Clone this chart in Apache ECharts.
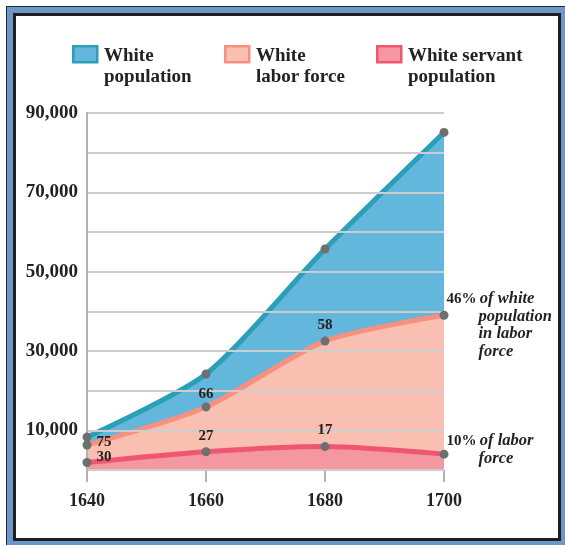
<!DOCTYPE html>
<html>
<head>
<meta charset="utf-8">
<script src="https://cdn.jsdelivr.net/npm/echarts@6/dist/echarts.min.js"></script>
<style>
  html, body { margin: 0; padding: 0; background: #ffffff; }
  #outer { position: absolute; left: 6px; top: 6px; width: 559px; height: 539px; background: #6b97cb; box-sizing: border-box; border-top: 1px solid #2a2a2a; border-left: 1px solid #2a2a2a; }
  #inner { position: absolute; left: 13px; top: 13px; width: 548px; height: 528px; background: #ffffff; box-sizing: border-box; border: 3px solid #1e1e1e; }
  #chart { position: absolute; left: 0; top: 0; width: 565px; height: 545px; }
</style>
</head>
<body>
<div id="outer"></div>
<div id="inner"></div>
<div id="chart"></div>
<script>
// ---- data ----
var years = ['1640', '1660', '1680', '1700'];
var whitePopulation = [8300, 24200, 55700, 85100];
var whiteLaborForce = [6300, 15900, 32500, 39000];
var whiteServantPopulation = [1900, 4600, 5900, 4000];
var laborPctLabels = ['75', '66', '58', '46%'];
var servantPctLabels = ['30', '27', '17', '10%'];
var yTickLabels = [10000, 30000, 50000, 70000, 90000];
var seriesNames = ['White\npopulation', 'White\nlabor force', 'White servant\npopulation'];

var lineColors = ['#2b9fb7', '#f6917f', '#ef5770'];
var areaColors = ['#63b6dc', '#f9bfb0', '#f597a0'];
var FONT = "'Liberation Serif', 'DejaVu Serif', serif";
var TXT = '#222222';

var richStyles = {
  n: { fontFamily: FONT, fontWeight: 'bold', fontSize: 15, color: TXT, opacity: 1, lineHeight: 17.5 },
  i: { fontFamily: FONT, fontWeight: 'bold', fontStyle: 'italic', fontSize: 16.5, color: TXT, opacity: 1, lineHeight: 17.5 },
  j: { fontFamily: FONT, fontWeight: 'bold', fontStyle: 'italic', fontSize: 16.5, color: TXT, opacity: 1, lineHeight: 17.5, padding: [0, 0, 0, 32] }
};

function numLabel(text, pos, extra) {
  var l = { show: true, formatter: text, position: pos, fontFamily: FONT, fontWeight: 'bold', fontSize: 15, color: TXT, opacity: 1, textBorderWidth: 0 };
  for (var k in extra) l[k] = extra[k];
  return l;
}

var laborData = whiteLaborForce.map(function (v, i) {
  var label;
  if (i === 0) label = numLabel(laborPctLabels[i], 'right', { distance: 5, offset: [0, -3] });
  else if (i === 3) label = {
    show: true, position: 'right', distance: 0, offset: [-2, 10], color: TXT, opacity: 1, textBorderWidth: 0,
    formatter: '{n|' + laborPctLabels[i] + '} {i|of white}\n{j|population}\n{j|in labor}\n{j|force}',
    rich: richStyles
  };
  else label = numLabel(laborPctLabels[i], 'top', { distance: i === 1 ? 1 : 4 });
  return { value: v, label: label };
});

var servantData = whiteServantPopulation.map(function (v, i) {
  var label;
  if (i === 0) label = numLabel(servantPctLabels[i], 'right', { distance: 5, offset: [0, -5] });
  else if (i === 3) label = {
    show: true, position: 'right', distance: 0, offset: [-2, -4.5], color: TXT, opacity: 1, textBorderWidth: 0,
    formatter: '{n|' + servantPctLabels[i] + '} {i|of labor}\n{j|force}',
    rich: richStyles
  };
  else label = numLabel(servantPctLabels[i], 'top', { distance: 4 });
  return { value: v, label: label };
});

function mkArea(idx, data) {
  return {
    name: seriesNames[idx],
    type: 'line',
    data: data,
    smooth: 0.25,
    showSymbol: false,
    lineStyle: { color: lineColors[idx], width: 5 },
    areaStyle: { color: areaColors[idx], opacity: 1 },
    emphasis: { disabled: true },
    silent: true,
    z: 2
  };
}

function mkPoints(data) {
  return {
    type: 'scatter',
    data: data,
    symbol: 'circle',
    symbolSize: 9,
    itemStyle: { color: '#6f6f6f', opacity: 1 },
    label: { color: TXT, opacity: 1 },
    emphasis: { disabled: true },
    silent: true,
    z: 5
  };
}

// legend drawn as graphic elements
var legendX = [72, 224, 376];
var legendGraphics = [];
seriesNames.forEach(function (name, i) {
  legendGraphics.push({
    type: 'rect',
    shape: { x: legendX[i] + 1.25, y: 46.25, width: 24, height: 16 },
    style: { fill: areaColors[i], stroke: lineColors[i], lineWidth: 2.5 },
    silent: true
  });
  legendGraphics.push({
    type: 'text',
    x: legendX[i] + 32, y: 45.5,
    style: { text: name, font: 'bold 19px ' + FONT, fill: TXT, lineHeight: 21, verticalAlign: 'top', align: 'left' },
    silent: true
  });
});

var chart = echarts.init(document.getElementById('chart'), null, { renderer: 'canvas' });
chart.setOption({
  backgroundColor: 'transparent',
  animation: false,
  grid: { left: 87, right: 121, top: 113, bottom: 75, containLabel: false },
  xAxis: {
    type: 'category',
    data: years,
    boundaryGap: false,
    axisLine: { show: false },
    axisTick: { show: true, length: 12, alignWithLabel: true, lineStyle: { color: '#b3b3b3', width: 2 } },
    axisLabel: { margin: 22, fontFamily: FONT, fontWeight: 'bold', fontSize: 18, color: TXT },
    splitLine: { show: false }
  },
  yAxis: {
    type: 'value',
    min: 0, max: 90000, interval: 10000,
    z: 3,
    axisLine: { show: true, lineStyle: { color: '#b3b3b3', width: 2 } },
    axisTick: { show: false },
    splitLine: { show: true, lineStyle: { color: '#cdcdcd', width: 2 } },
    axisLabel: {
      margin: 9, fontFamily: FONT, fontWeight: 'bold', fontSize: 19, color: TXT,
      formatter: function (v) {
        return yTickLabels.indexOf(v) >= 0 ? v.toLocaleString('en-US') : '';
      }
    }
  },
  graphic: legendGraphics,
  series: [
    mkArea(0, whitePopulation),
    mkArea(1, whiteLaborForce),
    mkArea(2, whiteServantPopulation),
    mkPoints(whitePopulation.slice()),
    mkPoints(laborData),
    mkPoints(servantData)
  ]
});
</script>
</body>
</html>
